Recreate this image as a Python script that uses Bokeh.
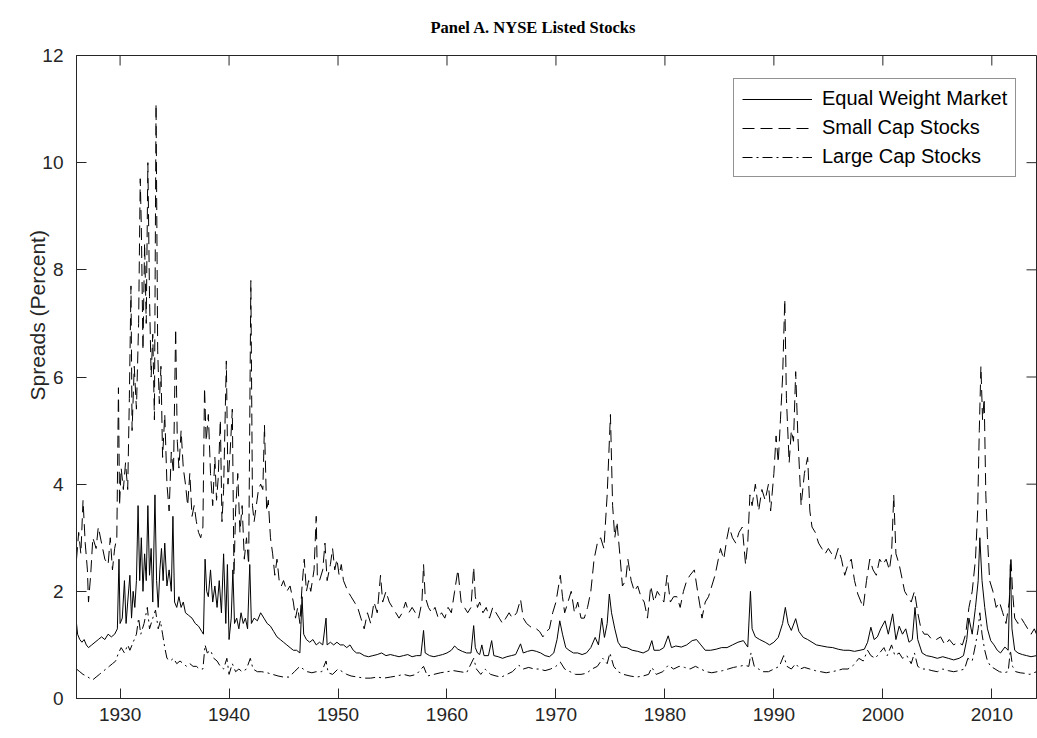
import math

from bokeh.plotting import figure
from bokeh.models import Range1d, FixedTicker, Legend, LegendItem, Title
from bokeh.embed import file_html
from bokeh.resources import INLINE

# Monthly-ish bid-ask spread estimates (percent), NYSE listed stocks
equal_weight = [
    (1926.0, 1.4), (1926.1, 1.2), (1926.3, 1.1), (1926.5, 1.05), (1926.7, 1.1), (1926.9, 1.0),
    (1927.1, 0.95), (1927.4, 1.0), (1927.7, 1.05), (1928.0, 1.1), (1928.3, 1.15), (1928.6, 1.1),
    (1928.9, 1.2), (1929.2, 1.15), (1929.5, 1.2), (1929.75, 1.3), (1929.9, 2.6), (1930.0, 1.4),
    (1930.2, 1.5), (1930.4, 2.2), (1930.55, 1.4), (1930.7, 1.8), (1930.9, 2.3), (1931.05, 1.5),
    (1931.2, 2.0), (1931.35, 1.7), (1931.5, 2.2), (1931.65, 3.6), (1931.8, 2.2), (1931.95, 3.0),
    (1932.1, 2.0), (1932.25, 2.7), (1932.4, 2.2), (1932.55, 3.6), (1932.7, 2.3), (1932.85, 2.8),
    (1933.0, 1.8), (1933.2, 3.8), (1933.35, 2.2), (1933.5, 1.7), (1933.65, 2.4), (1933.8, 2.8),
    (1933.95, 2.2), (1934.1, 2.9), (1934.3, 2.1), (1934.5, 2.4), (1934.7, 2.0), (1934.85, 3.4),
    (1935.0, 1.8), (1935.2, 1.7), (1935.4, 1.9), (1935.6, 1.7), (1935.8, 1.8), (1936.0, 1.6),
    (1936.3, 1.55), (1936.6, 1.5), (1936.9, 1.4), (1937.2, 1.35), (1937.5, 1.25), (1937.65, 1.2),
    (1937.8, 2.6), (1937.95, 2.0), (1938.1, 1.9), (1938.3, 2.4), (1938.5, 1.8), (1938.7, 2.1),
    (1938.9, 1.7), (1939.1, 2.2), (1939.3, 1.6), (1939.5, 2.7), (1939.7, 1.4), (1939.85, 2.5),
    (1940.0, 1.1), (1940.2, 1.5), (1940.35, 2.4), (1940.5, 1.4), (1940.7, 1.5), (1940.9, 1.3),
    (1941.1, 1.6), (1941.3, 1.4), (1941.5, 1.5), (1941.7, 1.3), (1941.9, 2.5), (1942.05, 1.4),
    (1942.3, 1.5), (1942.6, 1.45), (1942.9, 1.6), (1943.2, 1.5), (1943.5, 1.4), (1943.8, 1.35),
    (1944.1, 1.25), (1944.4, 1.15), (1944.7, 1.1), (1945.0, 1.05), (1945.3, 1.0), (1945.6, 0.95),
    (1945.9, 0.9), (1946.2, 0.9), (1946.5, 0.85), (1946.7, 1.9), (1946.85, 1.2), (1947.1, 1.1),
    (1947.4, 1.05), (1947.7, 1.1), (1948.0, 1.0), (1948.3, 1.05), (1948.6, 1.0), (1948.9, 1.5),
    (1949.0, 1.0), (1949.3, 1.05), (1949.6, 1.0), (1949.9, 1.05), (1950.2, 1.0), (1950.5, 1.0),
    (1950.8, 0.95), (1951.1, 1.0), (1951.4, 0.9), (1951.7, 0.85), (1952.0, 0.85), (1952.4, 0.8),
    (1952.8, 0.78), (1953.2, 0.8), (1953.6, 0.82), (1954.0, 0.85), (1954.4, 0.8), (1954.8, 0.82),
    (1955.2, 0.8), (1955.6, 0.78), (1956.0, 0.8), (1956.4, 0.82), (1956.8, 0.78), (1957.2, 0.8),
    (1957.6, 0.8), (1957.85, 1.27), (1958.0, 0.85), (1958.4, 0.8), (1958.8, 0.78), (1959.2, 0.8),
    (1959.6, 0.82), (1960.0, 0.85), (1960.4, 0.9), (1960.7, 0.98), (1961.0, 0.92), (1961.4, 0.88),
    (1961.8, 0.85), (1962.2, 0.85), (1962.45, 1.36), (1962.6, 0.95), (1962.8, 0.85), (1963.0, 0.82),
    (1963.2, 1.0), (1963.4, 0.8), (1963.8, 0.8), (1964.1, 1.08), (1964.3, 0.8), (1964.7, 0.78),
    (1965.1, 0.75), (1965.5, 0.78), (1965.9, 0.8), (1966.3, 0.82), (1966.75, 1.02), (1967.0, 0.85),
    (1967.4, 0.88), (1967.8, 0.9), (1968.2, 0.88), (1968.6, 0.85), (1969.0, 0.8), (1969.4, 0.78),
    (1969.8, 0.85), (1970.1, 1.1), (1970.35, 1.45), (1970.6, 1.2), (1970.9, 0.95), (1971.2, 0.9),
    (1971.6, 0.85), (1972.0, 0.85), (1972.4, 0.82), (1972.8, 0.85), (1973.2, 0.95), (1973.6, 1.14),
    (1973.9, 1.0), (1974.2, 1.5), (1974.45, 1.14), (1974.7, 1.4), (1974.9, 1.95), (1975.1, 1.6),
    (1975.4, 1.3), (1975.7, 1.05), (1976.0, 0.96), (1976.5, 0.95), (1977.0, 0.9), (1977.5, 0.88),
    (1978.0, 0.85), (1978.5, 0.9), (1978.8, 1.08), (1979.0, 0.9), (1979.5, 0.9), (1979.9, 0.95),
    (1980.3, 1.17), (1980.6, 0.95), (1981.0, 0.98), (1981.5, 0.96), (1982.0, 1.0), (1982.5, 1.08),
    (1982.9, 1.1), (1983.3, 1.0), (1983.7, 0.9), (1984.2, 0.9), (1984.7, 0.92), (1985.2, 0.95),
    (1985.7, 0.95), (1986.2, 1.0), (1986.7, 1.05), (1987.2, 1.08), (1987.6, 0.96), (1987.85, 2.0),
    (1988.0, 1.3), (1988.3, 1.15), (1988.7, 1.1), (1989.2, 1.05), (1989.6, 1.0), (1990.0, 1.05),
    (1990.4, 1.14), (1990.8, 1.4), (1991.05, 1.7), (1991.3, 1.4), (1991.6, 1.27), (1992.0, 1.49),
    (1992.3, 1.25), (1992.7, 1.14), (1993.1, 1.1), (1993.5, 1.05), (1993.9, 1.0), (1994.4, 0.98),
    (1994.9, 0.96), (1995.4, 0.95), (1995.9, 0.92), (1996.4, 0.9), (1996.9, 0.9), (1997.4, 0.88),
    (1997.9, 0.9), (1998.3, 0.92), (1998.6, 1.05), (1998.9, 1.33), (1999.2, 1.1), (1999.5, 1.15),
    (1999.8, 1.3), (2000.2, 1.45), (2000.5, 1.2), (2000.9, 1.58), (2001.2, 1.1), (2001.5, 1.35),
    (2001.8, 1.2), (2002.1, 1.3), (2002.4, 1.05), (2002.7, 1.1), (2002.95, 1.7), (2003.2, 1.1),
    (2003.6, 0.85), (2004.0, 0.8), (2004.5, 0.78), (2005.0, 0.75), (2005.5, 0.78), (2006.0, 0.75),
    (2006.5, 0.72), (2007.0, 0.75), (2007.4, 0.8), (2007.7, 1.1), (2007.9, 1.5), (2008.2, 1.2),
    (2008.5, 1.7), (2008.75, 2.2), (2008.9, 3.0), (2009.1, 2.2), (2009.35, 1.7), (2009.6, 1.3),
    (2009.9, 1.08), (2010.2, 1.0), (2010.5, 0.9), (2010.8, 0.85), (2011.2, 0.96), (2011.5, 0.9),
    (2011.7, 2.5), (2011.85, 1.3), (2012.1, 0.9), (2012.4, 0.85), (2012.8, 0.82), (2013.2, 0.8),
    (2013.6, 0.78), (2014.1, 0.8),
]

small_cap = [
    (1926.0, 2.6), (1926.2, 3.1), (1926.4, 2.7), (1926.6, 3.7), (1926.8, 2.9), (1927.0, 2.4),
    (1927.1, 1.8), (1927.3, 2.3), (1927.5, 3.0), (1927.8, 2.8), (1928.0, 3.2), (1928.3, 2.9),
    (1928.6, 2.6), (1928.9, 2.5), (1929.1, 3.0), (1929.3, 2.4), (1929.5, 2.8), (1929.7, 3.0),
    (1929.85, 5.8), (1929.95, 3.6), (1930.1, 4.3), (1930.3, 3.9), (1930.5, 4.4), (1930.7, 3.9),
    (1930.85, 5.6), (1931.0, 7.7), (1931.1, 5.0), (1931.3, 6.2), (1931.5, 5.4), (1931.7, 7.0),
    (1931.85, 9.7), (1931.95, 8.8), (1932.1, 6.5), (1932.25, 8.5), (1932.4, 7.0), (1932.55, 10.0),
    (1932.7, 7.5), (1932.85, 6.0), (1933.0, 6.8), (1933.15, 5.2), (1933.3, 11.1), (1933.45, 6.5),
    (1933.6, 5.5), (1933.75, 6.2), (1933.9, 4.5), (1934.1, 5.3), (1934.3, 4.0), (1934.5, 3.5),
    (1934.7, 4.6), (1934.9, 4.2), (1935.1, 6.9), (1935.25, 4.8), (1935.4, 4.3), (1935.6, 5.0),
    (1935.8, 4.3), (1936.0, 4.0), (1936.2, 3.6), (1936.4, 4.2), (1936.6, 3.4), (1936.8, 3.6),
    (1937.0, 3.3), (1937.2, 3.1), (1937.4, 3.0), (1937.6, 3.2), (1937.75, 5.8), (1937.9, 4.8),
    (1938.1, 5.3), (1938.3, 4.2), (1938.5, 3.6), (1938.7, 4.5), (1938.85, 3.7), (1939.0, 4.1),
    (1939.2, 5.2), (1939.35, 3.3), (1939.5, 3.9), (1939.75, 6.3), (1939.9, 4.0), (1940.1, 4.6),
    (1940.3, 5.4), (1940.45, 2.3), (1940.6, 3.5), (1940.8, 4.2), (1941.0, 3.1), (1941.2, 3.6),
    (1941.4, 2.6), (1941.6, 3.0), (1941.8, 2.5), (1942.0, 7.8), (1942.15, 3.6), (1942.3, 3.3),
    (1942.5, 3.6), (1942.7, 3.9), (1942.9, 4.0), (1943.1, 3.9), (1943.25, 5.1), (1943.45, 3.5),
    (1943.6, 3.7), (1943.8, 3.0), (1944.0, 2.7), (1944.2, 2.3), (1944.4, 2.6), (1944.6, 2.2),
    (1944.8, 2.1), (1945.0, 2.2), (1945.3, 2.0), (1945.6, 2.1), (1945.9, 1.8), (1946.1, 1.5),
    (1946.3, 1.7), (1946.5, 1.4), (1946.7, 2.1), (1946.9, 2.6), (1947.1, 2.0), (1947.3, 2.2),
    (1947.5, 2.0), (1947.8, 2.4), (1948.0, 3.4), (1948.1, 2.3), (1948.3, 2.2), (1948.6, 2.4),
    (1948.8, 2.9), (1949.0, 2.2), (1949.3, 2.5), (1949.5, 2.8), (1949.7, 2.4), (1949.9, 2.6),
    (1950.1, 2.3), (1950.3, 2.5), (1950.5, 2.2), (1950.7, 2.1), (1950.9, 2.0), (1951.2, 1.9),
    (1951.5, 1.8), (1951.8, 1.7), (1952.1, 1.5), (1952.4, 1.3), (1952.7, 1.6), (1953.0, 1.4),
    (1953.3, 1.8), (1953.6, 1.6), (1953.9, 2.3), (1954.1, 1.8), (1954.4, 2.0), (1954.7, 1.8),
    (1955.0, 1.7), (1955.3, 1.6), (1955.6, 1.5), (1955.9, 1.6), (1956.2, 1.8), (1956.5, 1.6),
    (1956.8, 1.7), (1957.1, 1.6), (1957.4, 1.5), (1957.7, 1.8), (1957.85, 2.5), (1958.0, 1.9),
    (1958.3, 1.7), (1958.6, 1.6), (1958.9, 1.7), (1959.2, 1.5), (1959.5, 1.6), (1959.8, 1.5),
    (1960.1, 1.7), (1960.4, 1.6), (1960.7, 2.0), (1961.0, 2.4), (1961.3, 1.8), (1961.6, 1.7),
    (1961.9, 1.6), (1962.2, 1.7), (1962.45, 2.45), (1962.6, 1.9), (1962.8, 1.7), (1963.0, 1.8),
    (1963.3, 1.6), (1963.6, 1.7), (1963.9, 1.5), (1964.2, 1.7), (1964.5, 1.6), (1964.8, 1.5),
    (1965.1, 1.4), (1965.4, 1.5), (1965.7, 1.6), (1966.0, 1.5), (1966.4, 1.6), (1966.75, 1.85),
    (1967.0, 1.5), (1967.3, 1.4), (1967.6, 1.35), (1967.9, 1.3), (1968.2, 1.3), (1968.5, 1.25),
    (1968.8, 1.15), (1969.1, 1.25), (1969.4, 1.3), (1969.7, 1.6), (1970.0, 1.8), (1970.4, 2.3),
    (1970.6, 1.9), (1970.8, 1.6), (1971.1, 1.8), (1971.4, 2.0), (1971.7, 1.6), (1972.0, 1.8),
    (1972.3, 1.5), (1972.6, 1.5), (1972.9, 1.7), (1973.2, 2.0), (1973.5, 2.6), (1973.8, 2.9),
    (1974.1, 3.0), (1974.4, 2.8), (1974.7, 3.8), (1975.0, 5.3), (1975.2, 3.6), (1975.4, 3.0),
    (1975.6, 3.3), (1975.9, 2.6), (1976.1, 2.1), (1976.4, 2.2), (1976.6, 2.6), (1976.9, 2.2),
    (1977.2, 2.0), (1977.5, 2.1), (1977.8, 1.9), (1978.1, 1.8), (1978.4, 1.5), (1978.7, 2.1),
    (1979.0, 1.8), (1979.3, 2.0), (1979.6, 1.9), (1979.9, 1.8), (1980.2, 2.3), (1980.5, 1.8),
    (1980.8, 1.9), (1981.1, 1.9), (1981.4, 1.7), (1981.7, 2.0), (1982.0, 2.2), (1982.3, 2.3),
    (1982.7, 2.4), (1983.0, 2.0), (1983.4, 1.5), (1983.7, 1.8), (1984.0, 1.9), (1984.3, 2.1),
    (1984.6, 2.3), (1984.9, 2.6), (1985.1, 2.8), (1985.4, 2.6), (1985.7, 3.0), (1985.9, 3.2),
    (1986.2, 3.0), (1986.5, 2.9), (1986.8, 3.1), (1987.1, 3.2), (1987.4, 2.5), (1987.6, 2.9),
    (1987.8, 3.8), (1988.0, 3.6), (1988.3, 4.0), (1988.6, 3.5), (1988.9, 3.9), (1989.2, 3.7),
    (1989.5, 4.0), (1989.7, 3.5), (1990.0, 4.2), (1990.2, 4.9), (1990.4, 4.4), (1990.6, 5.2),
    (1990.8, 6.0), (1991.0, 7.45), (1991.15, 5.6), (1991.4, 4.4), (1991.6, 5.0), (1991.8, 4.8),
    (1992.0, 6.1), (1992.2, 4.9), (1992.5, 3.6), (1992.8, 4.2), (1993.1, 4.5), (1993.3, 3.5),
    (1993.5, 3.2), (1993.8, 3.1), (1994.1, 2.9), (1994.4, 2.8), (1994.7, 2.7), (1995.0, 2.8),
    (1995.3, 2.7), (1995.6, 2.6), (1995.9, 2.8), (1996.2, 2.6), (1996.5, 2.3), (1996.8, 2.5),
    (1997.1, 2.6), (1997.4, 2.2), (1997.7, 1.95), (1998.0, 1.8), (1998.2, 1.7), (1998.5, 2.2),
    (1998.8, 2.6), (1999.1, 2.4), (1999.4, 2.3), (1999.7, 2.6), (2000.0, 2.5), (2000.3, 2.6),
    (2000.6, 2.4), (2000.8, 2.7), (2001.0, 3.8), (2001.2, 2.7), (2001.5, 2.5), (2001.8, 2.2),
    (2002.0, 2.0), (2002.3, 1.9), (2002.6, 1.8), (2002.9, 2.0), (2003.2, 1.6), (2003.5, 1.3),
    (2003.8, 1.2), (2004.1, 1.2), (2004.5, 1.1), (2004.9, 1.1), (2005.3, 1.15), (2005.7, 1.0),
    (2006.1, 1.1), (2006.5, 1.0), (2006.9, 1.05), (2007.3, 1.0), (2007.6, 1.2), (2007.9, 1.7),
    (2008.2, 2.0), (2008.5, 2.6), (2008.7, 3.5), (2008.85, 5.0), (2009.0, 6.2), (2009.15, 5.2),
    (2009.3, 5.6), (2009.45, 3.8), (2009.6, 3.0), (2009.8, 2.2), (2010.1, 2.0), (2010.4, 1.7),
    (2010.7, 1.8), (2011.0, 1.6), (2011.3, 1.4), (2011.6, 1.8), (2011.75, 2.65), (2011.9, 2.0),
    (2012.1, 1.5), (2012.4, 1.4), (2012.7, 1.5), (2013.0, 1.4), (2013.3, 1.3), (2013.6, 1.2),
    (2013.9, 1.3), (2014.1, 1.2),
]

large_cap = [
    (1926.0, 0.55), (1926.3, 0.5), (1926.6, 0.45), (1926.9, 0.42), (1927.2, 0.38), (1927.5, 0.35),
    (1927.8, 0.4), (1928.1, 0.45), (1928.4, 0.5), (1928.7, 0.55), (1929.0, 0.6), (1929.3, 0.65),
    (1929.6, 0.7), (1929.85, 0.85), (1930.1, 0.95), (1930.4, 0.85), (1930.7, 1.0), (1930.9, 0.9),
    (1931.2, 1.05), (1931.5, 1.2), (1931.7, 1.5), (1931.9, 1.2), (1932.2, 1.4), (1932.5, 1.7),
    (1932.7, 1.3), (1933.0, 1.5), (1933.25, 1.65), (1933.5, 1.3), (1933.7, 1.45), (1933.9, 1.2),
    (1934.1, 0.95), (1934.3, 0.75), (1934.6, 0.7), (1934.9, 0.75), (1935.2, 0.65), (1935.5, 0.7),
    (1935.8, 0.65), (1936.1, 0.6), (1936.4, 0.65), (1936.7, 0.6), (1937.0, 0.6), (1937.3, 0.55),
    (1937.6, 0.55), (1937.8, 1.0), (1938.0, 0.85), (1938.3, 0.9), (1938.6, 0.75), (1938.9, 0.7),
    (1939.2, 0.6), (1939.5, 0.55), (1939.8, 0.75), (1940.0, 0.45), (1940.3, 0.65), (1940.6, 0.5),
    (1940.9, 0.55), (1941.2, 0.5), (1941.6, 0.55), (1941.95, 0.75), (1942.2, 0.55), (1942.6, 0.5),
    (1943.0, 0.5), (1943.5, 0.48), (1944.0, 0.45), (1944.5, 0.42), (1945.0, 0.4), (1945.5, 0.4),
    (1946.0, 0.5), (1946.5, 0.6), (1946.8, 0.55), (1947.2, 0.5), (1947.6, 0.48), (1948.0, 0.5),
    (1948.5, 0.5), (1948.9, 0.7), (1949.1, 0.48), (1949.5, 0.45), (1950.0, 0.55), (1950.4, 0.5),
    (1950.8, 0.45), (1951.2, 0.42), (1951.8, 0.4), (1952.4, 0.38), (1953.0, 0.38), (1953.6, 0.4),
    (1954.2, 0.38), (1954.8, 0.4), (1955.4, 0.42), (1956.0, 0.45), (1956.6, 0.42), (1957.2, 0.45),
    (1957.85, 0.6), (1958.2, 0.42), (1958.8, 0.45), (1959.4, 0.48), (1960.0, 0.5), (1960.6, 0.52),
    (1961.2, 0.5), (1961.8, 0.48), (1962.45, 0.75), (1962.7, 0.55), (1963.1, 0.45), (1963.5, 0.55),
    (1964.0, 0.45), (1964.5, 0.42), (1965.0, 0.4), (1965.5, 0.45), (1966.0, 0.5), (1966.6, 0.62),
    (1967.0, 0.55), (1967.5, 0.58), (1968.0, 0.55), (1968.5, 0.55), (1969.0, 0.52), (1969.5, 0.55),
    (1970.0, 0.6), (1970.4, 0.68), (1970.8, 0.55), (1971.3, 0.5), (1971.8, 0.45), (1972.3, 0.45),
    (1972.8, 0.47), (1973.3, 0.55), (1973.8, 0.6), (1974.3, 0.75), (1974.7, 0.65), (1974.95, 0.85),
    (1975.3, 0.6), (1975.7, 0.5), (1976.2, 0.45), (1976.8, 0.42), (1977.4, 0.4), (1978.0, 0.42),
    (1978.5, 0.45), (1978.8, 0.58), (1979.2, 0.45), (1979.8, 0.5), (1980.3, 0.62), (1980.8, 0.55),
    (1981.3, 0.6), (1981.8, 0.58), (1982.3, 0.55), (1982.8, 0.6), (1983.3, 0.55), (1983.8, 0.5),
    (1984.3, 0.48), (1984.8, 0.5), (1985.3, 0.52), (1985.8, 0.55), (1986.3, 0.58), (1986.8, 0.6),
    (1987.3, 0.62), (1987.7, 0.6), (1987.9, 0.85), (1988.2, 0.6), (1988.6, 0.55), (1989.0, 0.5),
    (1989.5, 0.5), (1990.0, 0.55), (1990.5, 0.6), (1990.9, 0.8), (1991.2, 0.6), (1991.6, 0.55),
    (1992.0, 0.65), (1992.4, 0.55), (1992.8, 0.58), (1993.3, 0.55), (1993.8, 0.52), (1994.3, 0.5),
    (1994.8, 0.48), (1995.3, 0.5), (1995.8, 0.52), (1996.3, 0.55), (1996.8, 0.55), (1997.3, 0.62),
    (1997.8, 0.75), (1998.2, 0.7), (1998.6, 0.9), (1998.9, 0.8), (1999.3, 0.75), (1999.7, 0.85),
    (2000.1, 0.95), (2000.4, 0.8), (2000.8, 1.0), (2001.1, 0.8), (2001.5, 0.85), (2001.8, 0.75),
    (2002.2, 0.8), (2002.6, 0.65), (2002.9, 0.85), (2003.2, 0.6), (2003.6, 0.55), (2004.0, 0.55),
    (2004.5, 0.52), (2005.0, 0.5), (2005.5, 0.55), (2006.0, 0.52), (2006.5, 0.5), (2007.0, 0.52),
    (2007.5, 0.55), (2007.8, 0.75), (2008.2, 0.7), (2008.5, 1.0), (2008.75, 1.3), (2008.9, 1.6),
    (2009.1, 1.2), (2009.35, 0.9), (2009.6, 0.7), (2009.9, 0.6), (2010.3, 0.55), (2010.7, 0.5),
    (2011.1, 0.48), (2011.5, 0.5), (2011.7, 0.9), (2011.9, 0.6), (2012.2, 0.5), (2012.6, 0.48),
    (2013.0, 0.47), (2013.5, 0.45), (2014.1, 0.5),
]

year_ticks = [1930, 1940, 1950, 1960, 1970, 1980, 1990, 2000, 2010]
spread_ticks = [0, 2, 4, 6, 8, 10, 12]

AXIS_COLOR = "#262626"
SANS = "Liberation Sans"
TICK_LEN = 10
X0, X1 = 1926.0, 2014.1
Y0, Y1 = 0, 12

p = figure(
    width=1037, height=738,
    x_range=Range1d(X0, X1), y_range=Range1d(Y0, Y1),
    output_backend="svg", toolbar_location=None,
    min_border_left=76, min_border_right=1, min_border_top=55, min_border_bottom=40,
)
p.background_fill_color = "white"
p.border_fill_color = "white"
p.outline_line_color = AXIS_COLOR
p.outline_line_width = 1
p.xgrid.visible = False
p.ygrid.visible = False

# panel heading, a little left of the box centre and near the top edge
p.title.text = "Panel A. NYSE Listed Stocks"
p.title.align = "left"
p.title.offset = 354
p.title.vertical_align = "top"
p.title.standoff = 33
p.title.text_font = "Liberation Serif"
p.title.text_font_style = "bold"
p.title.text_font_size = "16.5px"
p.title.text_color = "black"


def style_axis(ax, ticks):
    ax.ticker = FixedTicker(ticks=ticks)
    ax.major_tick_in = TICK_LEN
    ax.major_tick_out = 0
    ax.minor_tick_in = 0
    ax.minor_tick_out = 0
    ax.axis_line_color = AXIS_COLOR
    ax.major_tick_line_color = AXIS_COLOR
    ax.major_label_text_font = SANS
    ax.major_label_text_color = AXIS_COLOR
    ax.major_label_text_font_size = "19px"


style_axis(p.xaxis[0], year_ticks)
style_axis(p.yaxis[0], spread_ticks)
p.xaxis[0].major_label_standoff = 9
p.yaxis[0].major_label_standoff = 13

# y-axis title, starting a little above the bottom of the axis
p.add_layout(Title(
    text="Spreads (Percent)", align="left", offset=298, standoff=-18,
    text_font=SANS, text_font_style="normal", text_font_size="21px",
    text_color=AXIS_COLOR,
), "left")

# inward ticks on the top and right edges of the box
p.ray(x=year_ticks, y=[Y1] * len(year_ticks), length=TICK_LEN,
      length_units="screen", angle=-math.pi / 2, line_color=AXIS_COLOR, line_width=1)
p.ray(x=[X1] * len(spread_ticks), y=spread_ticks, length=TICK_LEN,
      length_units="screen", angle=math.pi, line_color=AXIS_COLOR, line_width=1)


def unzip(pairs):
    return [a for a, _ in pairs], [b for _, b in pairs]


x, y = unzip(equal_weight)
r_eq = p.line(x, y, line_color="black", line_width=1.0)
x, y = unzip(small_cap)
r_sc = p.line(x, y, line_color="black", line_width=1.0, line_dash="12 6")
x, y = unzip(large_cap)
r_lc = p.line(x, y, line_color="black", line_width=1.0, line_dash="10 4 2 4")

legend = Legend(
    items=[
        LegendItem(label="Equal Weight Market", renderers=[r_eq]),
        LegendItem(label="Small Cap Stocks", renderers=[r_sc]),
        LegendItem(label="Large Cap Stocks", renderers=[r_lc]),
    ],
    location=(657, 521),
    orientation="vertical",
    border_line_color=AXIS_COLOR,
    border_line_width=1,
    background_fill_color="white",
    background_fill_alpha=1.0,
    label_text_font=SANS,
    label_text_font_size="20px",
    label_text_color="black",
    glyph_width=70,
    glyph_height=20,
    label_height=20,
    spacing=6,
    padding=8,
    margin=0,
    label_standoff=10,
)
p.add_layout(legend)

open("out.html", "w").write(file_html(p, INLINE))
